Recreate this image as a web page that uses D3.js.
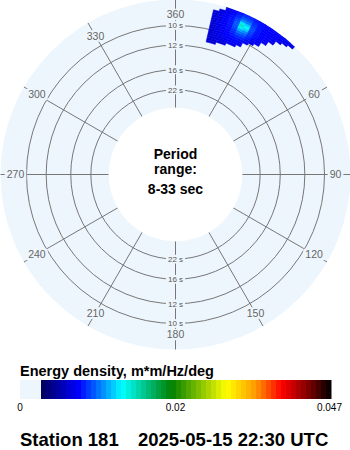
<!DOCTYPE html>
<html>
<head>
<meta charset="utf-8">
<script src="https://cdn.jsdelivr.net/npm/d3@7"></script>
<style>
body { margin: 0; background: #fff; }
svg { display: block; }
</style>
</head>
<body>
<svg id="chart" width="350" height="450"></svg>
<script>
// ring periods (s) and the inner limit of the period range
var periods = [10, 12, 16, 22];
var innerPeriod = 33;
var dirTicks = [0, 30, 60, 90, 120, 150, 180, 210, 240, 270, 300, 330];
var dirLabels = ['360', '30', '60', '90', '120', '150', '180', '210', '240', '270', '300', '330'];

// spectrum cells: frequency (Hz) rows x direction (deg) columns
var freqs = [0.090, 0.092, 0.094, 0.096, 0.098, 0.100, 0.102, 0.104, 0.106,
  0.108, 0.110, 0.112, 0.114, 0.116, 0.118, 0.120, 0.122];
var dirs = [14, 16, 18, 20, 22, 24, 26, 28, 30, 32, 34, 36, 38, 40, 42, 44];
var energy = [
  [.0045, .0045, 0, 0, 0, 0, 0, 0, 0, 0, 0, 0, 0, 0, 0, 0],
  [.0045, .0046, .0047, .0048, 0, 0, 0, 0, 0, 0, 0, 0, 0, 0, 0, 0],
  [.0045, .0048, .0050, .0052, .0052, .0052, 0, 0, 0, 0, 0, 0, 0, 0, 0, 0],
  [.0045, .0049, .0052, .0056, .0058, .0060, .0054, 0, 0, 0, 0, 0, 0, 0, 0, 0],
  [.0045, .0050, .0054, .0058, .0062, .0062, .0055, 0, 0, 0, 0, 0, 0, 0, 0, 0],
  [.0045, .0050, .0055, .0060, .0064, .0066, .0064, .0056, 0, 0, 0, 0, 0, 0, 0, 0],
  [.0045, .0051, .0056, .0061, .0068, .0072, .0070, .0064, .0055, 0, 0, 0, 0, 0, 0, 0],
  [.0045, .0051, .0057, .0063, .0071, .0080, .0078, .0068, .0061, .0054, 0, 0, 0, 0, 0, 0],
  [.0045, .0052, .0058, .0064, .0074, .0092, .0088, .0072, .0063, .0057, 0, 0, 0, 0, 0, 0],
  [.0046, .0052, .0059, .0066, .0080, .0108, .0100, .0076, .0065, .0059, .0055, 0, 0, 0, 0, 0],
  [.0046, .0052, .0059, .0067, .0084, .0126, .0118, .0080, .0066, .0060, .0057, 0, 0, 0, 0, 0],
  [.0046, .0052, .0059, .0067, .0086, .0148, .0135, .0082, .0067, .0061, .0058, .0054, 0, 0, 0, 0],
  [.0046, .0052, .0059, .0066, .0083, .0125, .0118, .0080, .0067, .0061, .0059, .0056, 0, 0, 0, 0],
  [.0045, .0051, .0058, .0065, .0078, .0100, .0096, .0076, .0066, .0061, .0059, .0057, .0054, 0, 0, 0],
  [0, .0048, .0056, .0063, .0072, .0086, .0084, .0072, .0065, .0061, .0059, .0058, .0056, .0053, 0, 0],
  [0, 0, .0054, .0060, .0068, .0076, .0075, .0068, .0064, .0061, .0060, .0059, .0058, .0056, .0052, 0],
  [0, 0, .0052, .0058, .0064, .0068, .0068, .0065, .0062, .0060, .0060, .0059, .0058, .0057, .0054, 0]
];

var maxEnergy = 0.047;
var barTicks = ['0', '0.02', '0.047'];
var colorStops = [0, 0.13, 0.28, 0.45, 0.64, 0.74, 0.83, 0.92, 1];
var stopColors = ['#00005a', '#0000ff', '#00ffff', '#008000', '#ffff00', '#ff9900', '#ff0000', '#800000', '#000000'];

var discColor = '#eef6fd',
  lineColor = '#777',
  cx = 175.5,
  cy = 174.5,
  discR = 175,
  fStep = 0.002,
  dStep = 2;

var svg = d3.select('#chart');
var font = '"Liberation Sans", Arial, sans-serif';

var r = d3.scaleLinear().domain([0, 0.1]).range([31, 149]);
var color = d3.scaleLinear()
  .domain(colorStops.map(function(t) { return t * maxEnergy; }))
  .range(stopColors);
var rad = function(d) { return d * Math.PI / 180; };

var g = svg.append('g').attr('transform', 'translate(' + cx + ',' + cy + ')');

g.append('circle').attr('r', discR).attr('fill', discColor);

// period rings
g.selectAll('circle.ring')
  .data(periods)
  .enter()
  .append('circle')
  .attr('class', 'ring')
  .attr('r', function(d) { return r(1 / d); })
  .attr('fill', 'none')
  .attr('stroke', lineColor)
  .attr('stroke-width', 1);

// spokes
g.selectAll('line.spoke')
  .data(dirTicks)
  .enter()
  .append('line')
  .attr('class', 'spoke')
  .attr('x1', function(d) { return r(1 / innerPeriod) * Math.sin(rad(d)); })
  .attr('y1', function(d) { return -r(1 / innerPeriod) * Math.cos(rad(d)); })
  .attr('x2', function(d) { return discR * Math.sin(rad(d)); })
  .attr('y2', function(d) { return -discR * Math.cos(rad(d)); })
  .attr('stroke', lineColor)
  .attr('stroke-width', 1);

function label(sel, x, y, txt, size, fill) {
  var lg = sel.append('g').attr('transform', 'translate(' + x + ',' + y + ')');
  var bg = lg.append('rect').attr('fill', discColor);
  var t = lg.append('text')
    .attr('text-anchor', 'middle')
    .attr('dy', '0.35em')
    .attr('font-family', font)
    .attr('font-size', size)
    .attr('fill', fill)
    .text(txt);
  var w = t.node().getComputedTextLength() + 4;
  bg.attr('x', -w / 2).attr('y', -size * 0.55).attr('width', w).attr('height', size * 1.1);
}

dirTicks.forEach(function(d, i) {
  label(g, 160 * Math.sin(rad(d)), -160 * Math.cos(rad(d)), dirLabels[i], 10.5, '#666');
});

periods.forEach(function(p) {
  label(g, 0, -r(1 / p), p + '  s', 8, '#555');
  label(g, 0, r(1 / p), p + '  s', 8, '#555');
});

// energy cells
var cells = [];
freqs.forEach(function(f, i) {
  dirs.forEach(function(d, j) {
    if (energy[i][j] > 0) cells.push({f: f, d: d, v: energy[i][j]});
  });
});

svg.append('clipPath').attr('id', 'disc')
  .append('circle').attr('r', discR);

var arc = d3.arc()
  .innerRadius(function(c) { return r(c.f - fStep / 2); })
  .outerRadius(function(c) { return r(c.f + fStep / 2); })
  .startAngle(function(c) { return rad(c.d - dStep / 2); })
  .endAngle(function(c) { return rad(c.d + dStep / 2); });

g.append('g')
  .attr('clip-path', 'url(#disc)')
  .selectAll('path')
  .data(cells)
  .enter()
  .append('path')
  .attr('d', arc)
  .attr('fill', function(c) { return color(c.v); })
  .attr('stroke', function(c) { return color(c.v); })
  .attr('stroke-width', 0.5);

g.append('circle').attr('r', r(1 / innerPeriod)).attr('fill', '#fff');

var centerText = [['Period', -15.5], ['range:', -0.5], ['8-33 sec', 19.5]];
g.selectAll('text.center')
  .data(centerText)
  .enter()
  .append('text')
  .attr('class', 'center')
  .attr('x', 0)
  .attr('y', function(d) { return d[1]; })
  .attr('text-anchor', 'middle')
  .attr('font-family', font)
  .attr('font-size', 14)
  .attr('font-weight', 'bold')
  .text(function(d) { return d[0]; });

// colour bar
svg.append('text')
  .attr('x', 20).attr('y', 376)
  .attr('font-family', font).attr('font-size', 14.5).attr('font-weight', 'bold')
  .text('Energy density, m*m/Hz/deg');

svg.append('rect').attr('x', 20).attr('y', 380).attr('width', 21).attr('height', 19).attr('fill', discColor);

var nBands = 58;
var bx = d3.scaleLinear().domain([0, nBands]).range([41, 331]);
svg.selectAll('rect.band')
  .data(d3.range(nBands))
  .enter()
  .append('rect')
  .attr('class', 'band')
  .attr('x', function(i) { return bx(i); })
  .attr('y', 380)
  .attr('width', bx(1) - bx(0) + 0.5)
  .attr('height', 19)
  .attr('fill', function(i) { return color((i + 0.5) / nBands * maxEnergy); });

var tx = d3.scalePoint().domain(barTicks).range([20, 342]);
svg.selectAll('text.tick')
  .data(barTicks)
  .enter()
  .append('text')
  .attr('class', 'tick')
  .attr('x', function(d, i) { return i === 1 ? 175.5 : tx(d); })
  .attr('y', 411)
  .attr('text-anchor', function(d, i) { return i === 2 ? 'end' : 'middle'; })
  .attr('font-family', font)
  .attr('font-size', 10)
  .text(function(d) { return d; });

svg.append('text')
  .attr('x', 20).attr('y', 445.5)
  .attr('font-family', font).attr('font-size', 18.5).attr('font-weight', 'bold')
  .text('Station 181');
svg.append('text')
  .attr('x', 138).attr('y', 445.5)
  .attr('font-family', font).attr('font-size', 18.5).attr('font-weight', 'bold')
  .text('2025-05-15 22:30 UTC');
</script>
</body>
</html>
